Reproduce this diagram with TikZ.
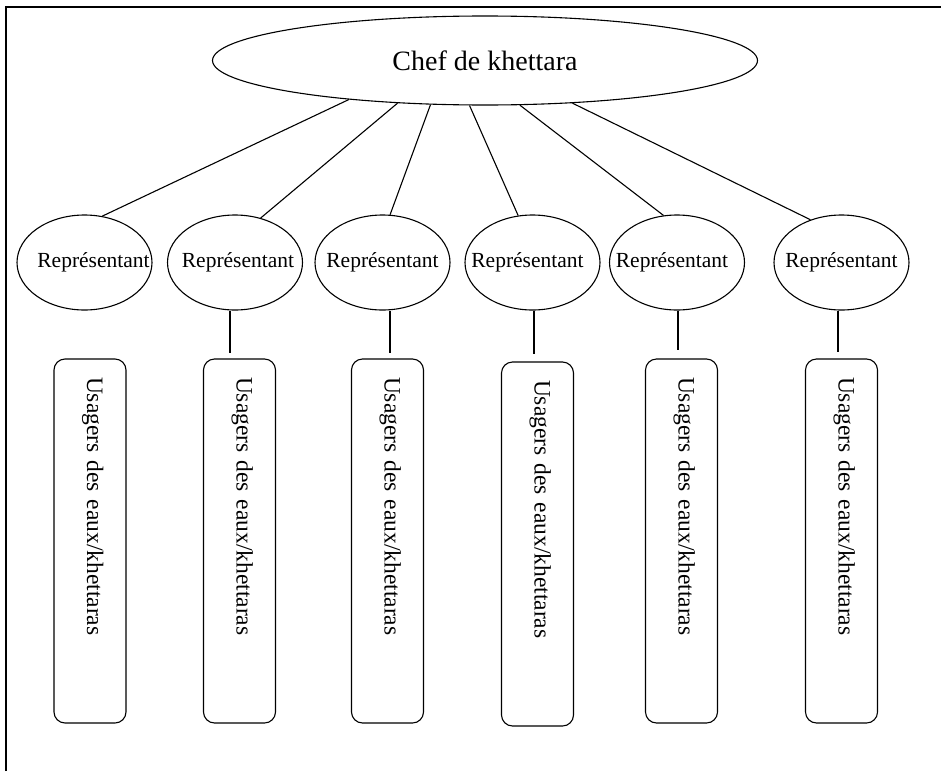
\documentclass[tikz,border=0pt]{standalone}
\usepackage{fontspec}
\setmainfont{Liberation Serif}
\usetikzlibrary{shapes.geometric}
\newcommand{\replabel}[1]{\makebox[0pt]{#1}}
\begin{document}
\begin{tikzpicture}[x=1pt,y=1pt,
  chef/.style={draw,ellipse,line width=1.1pt,inner sep=0pt,
    minimum width=545pt,minimum height=89pt,font=\fontsize{28}{33}\selectfont},
  rep/.style={draw,ellipse,line width=1.1pt,inner sep=0pt,
    minimum width=135pt,minimum height=95pt,font=\fontsize{21.5}{25}\selectfont},
  users/.style={draw,rectangle,rounded corners=11pt,line width=1.1pt,rotate=-90,
    minimum width=364pt,minimum height=72pt,inner xsep=18pt,inner ysep=0pt,
    text width=328pt,align=left,text height=13pt,text depth=7pt,
    font=\fontsize{23.5}{28}\selectfont},
  link/.style={line width=1.1pt}]
\useasboundingbox (0,0) rectangle (941,-771);

% outer frame (top and left edges)
\draw[line width=2pt] (6,-771) -- (6,-7) -- (941,-7);

% head of the organisation
\node[chef] (chef) at (485,-60.5) {Chef de khettara};

% representatives
\node[rep] (r1) at (84.5,-262.5)  {\replabel{\hspace*{18pt}Représentant}};
\node[rep] (r2) at (235,-262.5)   {\replabel{\hspace*{6pt}Représentant}};
\node[rep] (r3) at (382.5,-262.5) {\replabel{Représentant}};
\node[rep] (r4) at (532.5,-262.5) {\replabel{Représentant\hspace*{10pt}}};
\node[rep] (r5) at (677,-262.5)   {\replabel{Représentant\hspace*{10pt}}};
\node[rep] (r6) at (841.5,-262.5) {\replabel{Représentant}};

% water users
\node[users] (u1) at (90,-541)    {Usagers des eaux/khettaras};
\node[users] (u2) at (239.5,-541) {Usagers des eaux/khettaras};
\node[users] (u3) at (387.5,-541) {Usagers des eaux/khettaras};
\node[users] (u4) at (537.5,-544) {Usagers des eaux/khettaras};
\node[users] (u5) at (681.5,-541) {Usagers des eaux/khettaras};
\node[users] (u6) at (841.5,-541) {Usagers des eaux/khettaras};

% links from the chef to each representative
\draw[link] (chef.196.1) -- (r1.69.8);
\draw[link] (chef.206)   -- (r2.60.4);
\draw[link] (chef.219.4) -- (r3.81);
\draw[link] (chef.251)   -- (r4.107);
\draw[link] (chef.308.5) -- (r5.106.4);
\draw[link] (chef.334.8) -- (r6.126);

% short drops below the representatives
\coordinate (d2) at (230,-353);
\coordinate (d3) at (390,-353);
\coordinate (d4) at (534,-354);
\coordinate (d5) at (678,-350);
\coordinate (d6) at (838,-352);
\draw[link] (r2.south -| d2) -- (d2);
\draw[link] (r3.south -| d3) -- (d3);
\draw[link] (r4.south -| d4) -- (d4);
\draw[link] (r5.south -| d5) -- (d5);
\draw[link] (r6.south -| d6) -- (d6);
\end{tikzpicture}
\end{document}
